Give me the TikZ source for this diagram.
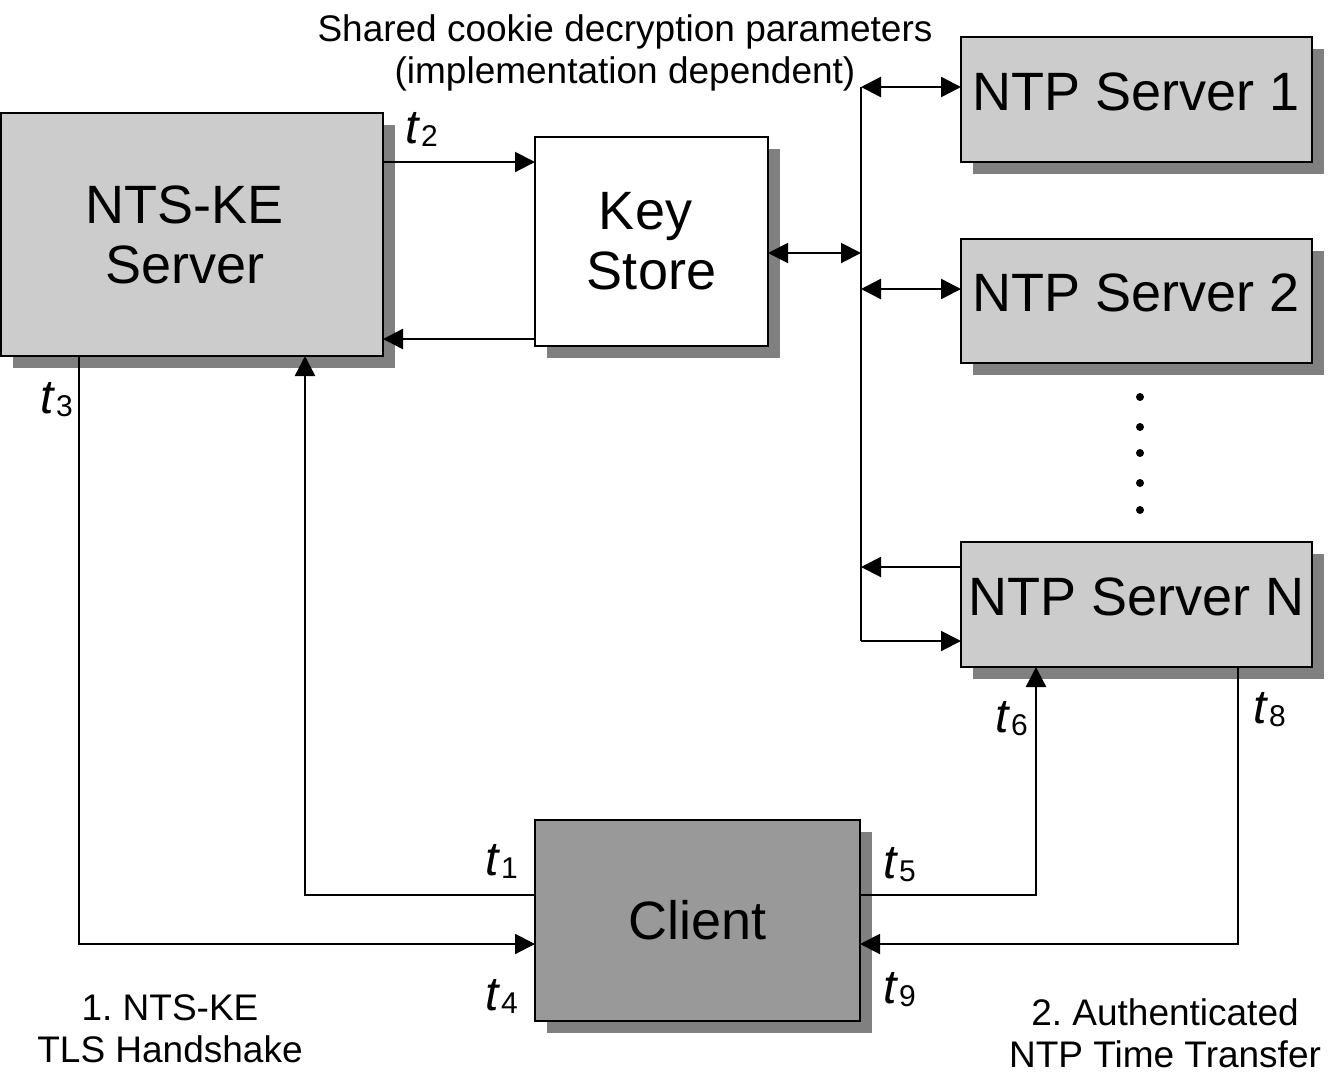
\documentclass[tikz,border=0pt]{standalone}
\usepackage{fontspec}
\setmainfont{Liberation Sans}
\usetikzlibrary{arrows.meta,shadows}
\definecolor{boxgray}{HTML}{CCCCCC}
\definecolor{clientgray}{HTML}{999999}
\definecolor{shadowgray}{HTML}{808080}
\newcommand{\tlab}[1]{\fontsize{48}{50}\selectfont\textit{t}\kern1pt\raisebox{-3pt}{\fontsize{30}{32}\selectfont #1}}
\frenchspacing
\begin{document}
\begin{tikzpicture}[x=1pt,y=-1pt,
 box/.style={draw=black, line width=1.5pt, inner sep=0pt, outer sep=0pt, align=center,
   font=\fontsize{54}{60}\selectfont,
   drop shadow={shadow xshift=12pt, shadow yshift=-12pt, fill=shadowgray, opacity=1}},
 ntpbox/.style={box, fill=boxgray, minimum width=351pt, text depth=16pt},
 conn/.style={line width=2.5pt},
 arr/.style={conn, -{Triangle[length=20pt,width=20pt]}},
 dbl/.style={conn, {Triangle[length=20pt,width=20pt]}-{Triangle[length=20pt,width=20pt]}},
 tl/.style={anchor=base west, inner sep=0pt},
 captext/.style={align=center, font=\fontsize{37}{42}\selectfont, inner sep=0pt},
 dot/.style={circle, fill=black, inner sep=0pt, minimum size=8pt}]
\useasboundingbox (0,0) rectangle (1328,1080);

% boxes
\node[box, fill=boxgray, minimum width=382pt, minimum height=243pt] (nts) at (192,234.5) {NTS-KE\hspace*{14pt}\\Server\hspace*{14pt}};
\node[box, fill=white, minimum width=233pt, minimum height=209pt] (key) at (651.5,241.5) {Key\hspace*{12pt}\\Store};
\node[ntpbox, minimum height=125pt] (ntp1) at (1136.5,99.5) {NTP Server 1};
\node[ntpbox, minimum height=124pt] (ntp2) at (1136.5,301) {NTP Server 2};
\node[ntpbox, minimum height=125pt] (ntpN) at (1136.5,604.5) {NTP Server N};
\node[box, fill=clientgray, minimum width=325pt, minimum height=201pt] (client) at (697.5,920.5) {Client};

% dots
\node[dot] (d1) at (1140,397) {};
\node[dot] (d2) at (1140,427) {};
\node[dot] (d3) at (1140,453) {};
\node[dot] (d4) at (1140,483) {};
\node[dot] (d5) at (1140,510) {};

% helper coordinates
\coordinate (yA) at (0,162);
\coordinate (yB) at (0,339);
\coordinate (busTop) at (861,87);
\coordinate (busK) at (861,253);
\coordinate (bus2) at (861,289);
\coordinate (busN1) at (861,567);
\coordinate (busN2) at (861,641);
\coordinate (c1) at (305,895);
\coordinate (c3) at (79,944);
\coordinate (c5) at (1036,895);
\coordinate (c8) at (1238,944);

% connectors
\draw[arr, line width=2pt] (nts.east |- yA) -- (key.west |- yA);
\draw[arr] (key.west |- yB) -- (nts.east |- yB);
\draw[dbl, line width=2pt] (key.east |- busK) -- (busK);
\draw[conn] (busTop) -- (busN2);
\draw[dbl] (busTop) -- (ntp1.west |- busTop);
\draw[dbl] (bus2) -- (ntp2.west |- bus2);
\draw[arr, line width=2pt] (ntpN.west |- busN1) -- (busN1);
\draw[arr, line width=2pt] (busN2) -- (ntpN.west |- busN2);
\draw[arr] (client.west |- c1) -- (c1) -- (nts.south -| c1);
\draw[arr, line width=2pt] (nts.south -| c3) -- (c3) -- (client.west |- c3);
\draw[arr] (client.east |- c5) -- (c5) -- (ntpN.south -| c5);
\draw[arr, line width=2pt] (ntpN.south -| c8) -- (c8) -- (client.east |- c8);

% time labels
\node[tl] (lt2) at (405,143) {\tlab{2}};
\node[tl] (lt3) at (40,413) {\tlab{3}};
\node[tl] (lt1) at (485,875) {\tlab{1}};
\node[tl] (lt4) at (485,1010) {\tlab{4}};
\node[tl] (lt5) at (883,878) {\tlab{5}};
\node[tl] (lt9) at (883,1003) {\tlab{9}};
\node[tl] (lt6) at (995,732) {\tlab{6}};
\node[tl] (lt8) at (1253,723) {\tlab{8}};

% captions
\node[captext] (shared) at (625,53) {Shared cookie decryption parameters\\(implementation dependent)};
\node[captext] (lbl1) at (170,1029) {1. NTS-KE\\TLS Handshake};
\node[captext] (lbl2) at (1165,1033) {2. Authenticated\\NTP Time Transfer};
\end{tikzpicture}
\end{document}
